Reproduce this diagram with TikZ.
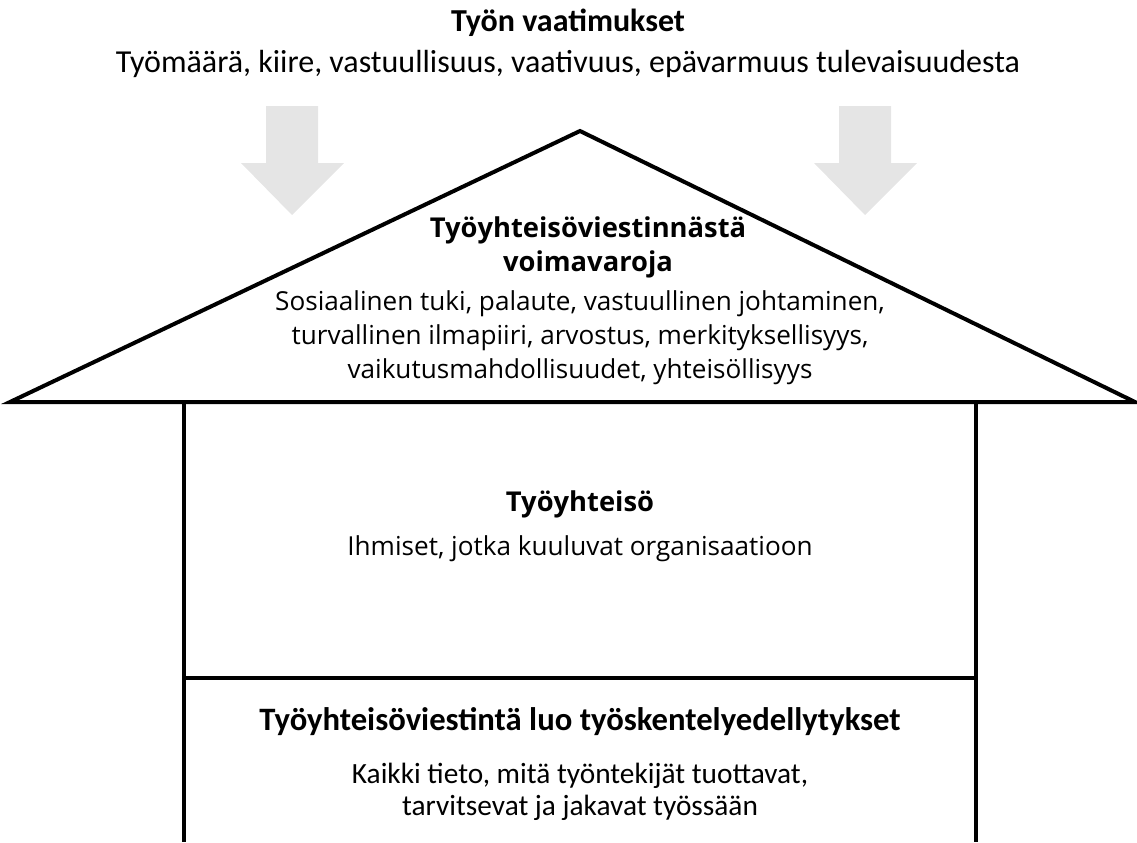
\documentclass[tikz,border=0pt]{standalone}
\usepackage{fontspec}
\setmainfont{Open Sans}
\newfontfamily\calfont{Carlito}
\newfontfamily\segfont{Open Sans}
\begin{document}
\begin{tikzpicture}[x=0.75pt,y=-0.75pt,
  wall/.style={line width=3pt},
  downarrow/.style={fill=black!10,draw=none},
  topbold/.style={font=\calfont\bfseries\fontsize{24}{28}\selectfont,anchor=base},
  topplain/.style={font=\calfont\fontsize{24}{28}\selectfont,anchor=base},
  roofbold/.style={font=\segfont\bfseries\fontsize{20.5}{24}\selectfont,anchor=base},
  roofplain/.style={font=\segfont\fontsize{19.6}{23}\selectfont,anchor=base},
  lowbold/.style={font=\calfont\bfseries\fontsize{24.5}{28}\selectfont,anchor=base},
  lowplain/.style={font=\calfont\fontsize{22}{26}\selectfont,anchor=base}]
\useasboundingbox (0,0) rectangle (1137,842);

% pressure arrows from above
\fill[downarrow] (266,106) -- (318,106) -- (318,163) -- (344,163) -- (292,215)
  -- (241,163) -- (266,163) -- cycle;
\fill[downarrow] (839,106) -- (891,106) -- (891,163) -- (917,163) -- (865,215)
  -- (814,163) -- (839,163) -- cycle;

% roof
\coordinate (apex) at (580,131);
\coordinate (eaveL) at (10,402);
\coordinate (eaveR) at (1135,402);
\draw[wall,fill=white,line join=miter] (eaveL) -- (apex) -- (eaveR) -- cycle;

% walls and floor divider
\coordinate (wallLt) at (184,402);
\coordinate (wallLb) at (184,842);
\coordinate (wallRt) at (976,402);
\coordinate (wallRb) at (976,842);
\coordinate (divL) at (184,678);
\coordinate (divR) at (976,678);
\draw[wall] (wallLt) -- (wallLb);
\draw[wall] (wallRt) -- (wallRb);
\draw[wall] (divL) -- (divR);

% texts
\node[topbold] (demT) at (568,32) {Työn vaatimukset};
\node[topplain] (demB) at (568,73) {Työmäärä, kiire, vastuullisuus, vaativuus, epävarmuus tulevaisuudesta};

\node[roofbold] (resT1) at (588,237) {Työyhteisöviestinnästä};
\node[roofbold] (resT2) at (588,271) {voimavaroja};
\node[roofplain] (resB1) at (580,310) {Sosiaalinen tuki, palaute, vastuullinen johtaminen,};
\node[roofplain] (resB2) at (580,344) {turvallinen ilmapiiri, arvostus, merkityksellisyys,};
\node[roofplain] (resB3) at (580,378) {vaikutusmahdollisuudet, yhteisöllisyys};

\node[roofbold] (comT) at (580,511) {Työyhteisö};
\node[roofplain] (comB) at (580,555) {Ihmiset, jotka kuuluvat organisaatioon};

\node[lowbold] (comuT) at (580,730) {Työyhteisöviestintä luo työskentelyedellytykset};
\node[lowplain] (comuB1) at (580,783) {Kaikki tieto, mitä työntekijät tuottavat,};
\node[lowplain] (comuB2) at (580,815) {tarvitsevat ja jakavat työssään};
\end{tikzpicture}
\end{document}
